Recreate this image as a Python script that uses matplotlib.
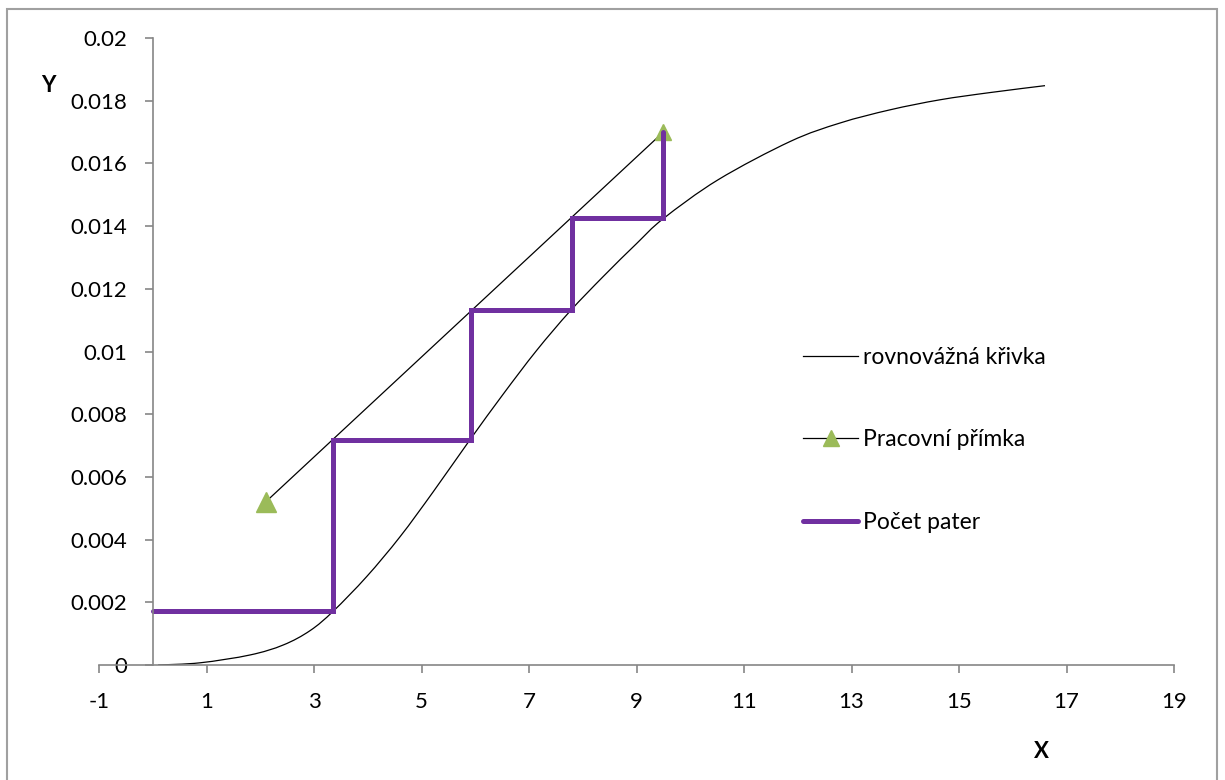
"""McCabe-Thiele style stage construction: equilibrium curve, operating line
and the stage staircase (Excel-look scatter chart)."""

import matplotlib
matplotlib.use('Agg')
import matplotlib.pyplot as plt
from matplotlib.patches import Rectangle, PathPatch
from matplotlib.path import Path

plt.rcParams['font.family'] = ['Lato', 'DejaVu Sans']
plt.rcParams['axes.unicode_minus'] = False

# equilibrium curve (rovnovážná křivka)
eq_x = [0.10, 0.88, 1.81, 2.43, 2.93, 3.36, 3.98, 4.60, 5.22, 5.90, 6.52,
	7.14, 7.76, 8.38, 9.00, 9.50, 10.52, 11.86, 12.79, 13.72, 14.65,
	15.58, 16.60]
eq_y = [0.0, 0.00007, 0.00032, 0.00064, 0.00110, 0.00172, 0.00282, 0.00409,
	0.00553, 0.00718, 0.00864, 0.01003, 0.01128, 0.01239, 0.01344, 0.01424,
	0.01548, 0.0167, 0.01729, 0.01771, 0.01803, 0.01826, 0.01848]

# operating line (pracovní přímka)
op_x = [2.1, 9.5]
op_y = [0.0052, 0.0170]

# stage staircase (počet pater)
st_x = [0.0, 3.35, 3.35, 5.92, 5.92, 7.8, 7.8, 9.5, 9.5]
st_y = [0.00173, 0.00173, 0.00718, 0.00718, 0.01133, 0.01133, 0.01426,
	0.01426, 0.0170]

x_ticks = list(range(-1, 20, 2))
y_ticks = [0, 0.002, 0.004, 0.006, 0.008, 0.01, 0.012, 0.014, 0.016, 0.018,
	0.02]
y_tick_labels = ['0', '0.002', '0.004', '0.006', '0.008', '0.01', '0.012',
	'0.014', '0.016', '0.018', '0.02']

AXIS_GREY = '#868686'
PURPLE = '#7030A0'
GREEN = '#9BBB59'
FS = 16


def smooth_path(xs, ys):
	"""Excel-like smoothed line: Catmull-Rom through the points as Beziers."""
	pts = list(zip(xs, ys))
	verts = [pts[0]]
	codes = [Path.MOVETO]
	for i in range(len(pts) - 1):
		p0 = pts[i - 1] if i > 0 else pts[i]
		p1, p2 = pts[i], pts[i + 1]
		p3 = pts[i + 2] if i + 2 < len(pts) else pts[i + 1]
		c1 = (p1[0] + (p2[0] - p0[0]) / 6, p1[1] + (p2[1] - p0[1]) / 6)
		c2 = (p2[0] - (p3[0] - p1[0]) / 6, p2[1] - (p3[1] - p1[1]) / 6)
		verts += [c1, c2, p2]
		codes += [Path.CURVE4] * 3
	return Path(verts, codes)


fig = plt.figure(figsize=(12.25, 7.8), dpi=100)
ax = fig.add_axes([99 / 1225, 1 - 665 / 780, 1075 / 1225, 627 / 780])

ax.add_patch(PathPatch(smooth_path(eq_x, eq_y), fill=False,
	edgecolor='black', lw=0.9))
ax.plot([], [], color='black', lw=0.9, label='rovnovážná křivka')
ax.plot(op_x, op_y, color='black', lw=0.9, marker='^', ms=11,
	mfc=GREEN, mec=GREEN, label='Pracovní přímka')
ax.plot(op_x[:1], op_y[:1], ls='none', marker='^', ms=15, mfc=GREEN,
	mec=GREEN)
ax.plot(st_x, st_y, color=PURPLE, lw=3.6, solid_capstyle='round',
	solid_joinstyle='miter', label='Počet pater')

ax.set_xlim(-1, 19)
ax.set_ylim(0, 0.02)
ax.set_xticks(x_ticks)
ax.set_yticks(y_ticks)
ax.set_yticklabels(y_tick_labels)

ax.spines['left'].set_position(('data', 0))
ax.spines['bottom'].set_position(('data', 0))
for side in ('top', 'right'):
	ax.spines[side].set_visible(False)
for side in ('left', 'bottom'):
	ax.spines[side].set_color(AXIS_GREY)
	ax.spines[side].set_linewidth(1.2)
ax.tick_params(axis='both', direction='out', length=5.5, width=1.2,
	color=AXIS_GREY, labelsize=FS, labelcolor='black')
ax.tick_params(axis='x', pad=14)
ax.tick_params(axis='y', pad=13)

fig.text(48 / 1225, 1 - 85 / 780, 'Y', fontsize=FS, fontweight='bold',
	ha='center', va='center')
fig.text(1041 / 1225, 1 - 752 / 780, 'X', fontsize=FS, fontweight='bold',
	ha='center', va='center')

fig.legend(loc='center left', bbox_to_anchor=(803 / 1225, 1 - 440 / 780),
	frameon=False, fontsize=16.5, labelspacing=2.7, handlelength=2.4,
	handletextpad=0.2, borderpad=0, borderaxespad=0)

fig.add_artist(Rectangle((7 / 1225, -0.05), 1210 / 1225, 1.05 - 9 / 780,
	transform=fig.transFigure, fill=False, edgecolor='#a0a0a0', lw=1.5))

fig.savefig('out.png', dpi=100)
